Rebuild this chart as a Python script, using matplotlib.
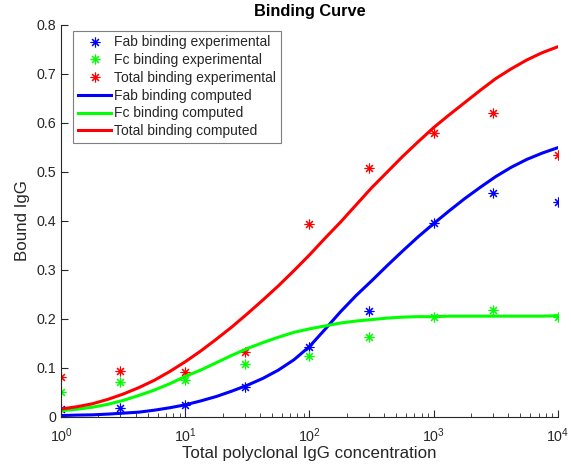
import numpy as np
import matplotlib
matplotlib.use('Agg')
import matplotlib.pyplot as plt

plt.rcParams['font.family'] = ['Liberation Sans', 'DejaVu Sans']
plt.rcParams['mathtext.default'] = 'regular'

# experimental points
conc = [1, 3, 10, 30, 100, 300, 1000, 3000, 10000]
fab_exp = [0.015, 0.017, 0.023, 0.061, 0.143, 0.215, 0.396, 0.457, 0.439]
fc_exp = [0.051, 0.071, 0.075, 0.107, 0.124, 0.162, 0.204, 0.217, 0.203]
tot_exp = [0.081, 0.093, 0.092, 0.131, 0.394, 0.508, 0.578, 0.619, 0.535]

log_conc = [0, 0.125, 0.25, 0.375, 0.5, 0.625, 0.75, 0.875, 1, 1.125, 1.25, 1.375,
            1.5, 1.625, 1.75, 1.875, 2, 2.125, 2.25, 2.375, 2.5, 2.625, 2.75, 2.875,
            3, 3.125, 3.25, 3.375, 3.5, 3.625, 3.75, 3.875, 4]
fab_fit = [0.002, 0.003, 0.0035, 0.005, 0.007, 0.009, 0.013, 0.018, 0.024, 0.032, 0.041,
           0.052, 0.064, 0.078, 0.095, 0.116, 0.143, 0.178, 0.214, 0.247, 0.277, 0.308,
           0.338, 0.367, 0.394, 0.420, 0.445, 0.468, 0.490, 0.509, 0.525, 0.538, 0.549]
fc_fit = [0.012, 0.015, 0.019, 0.025, 0.033, 0.043, 0.054, 0.067, 0.082, 0.095, 0.110,
          0.125, 0.139, 0.151, 0.162, 0.172, 0.179, 0.185, 0.191, 0.195, 0.198, 0.201,
          0.203, 0.204, 0.204, 0.205, 0.205, 0.205, 0.205, 0.205, 0.205, 0.205, 0.206]
tot_fit = [0.0155, 0.020, 0.026, 0.035, 0.046, 0.059, 0.074, 0.092, 0.112, 0.134, 0.158,
           0.183, 0.210, 0.238, 0.267, 0.298, 0.330, 0.364, 0.397, 0.432, 0.467, 0.499,
           0.531, 0.561, 0.590, 0.616, 0.641, 0.666, 0.690, 0.710, 0.728, 0.743, 0.755]

x_fit = 10 ** np.array(log_conc)
ast = (8, 2, 0)  # asterisk marker like matlab '*'
txt = '#262626'

fig = plt.figure(figsize=(5.71, 4.75), dpi=100)
ax = fig.add_axes([0.107, 0.123, 0.870, 0.825])

ax.plot(conc, fab_exp, ls='none', marker=ast, ms=7, mew=0.8, color='blue', label='Fab binding experimental')
ax.plot(conc, fc_exp, ls='none', marker=ast, ms=7, mew=0.8, color=(0, 1, 0), label='Fc binding experimental')
ax.plot(conc, tot_exp, ls='none', marker=ast, ms=7, mew=0.8, color='red', label='Total binding experimental')
ax.plot(x_fit, fab_fit, color='blue', lw=2.2, label='Fab binding computed')
ax.plot(x_fit, fc_fit, color=(0, 1, 0), lw=2.2, label='Fc binding computed')
ax.plot(x_fit, tot_fit, color='red', lw=2.2, label='Total binding computed')

ax.set_xscale('log')
ax.set_xlim(1, 1e4)
ax.set_ylim(0, 0.8)
ax.set_yticks(np.arange(0, 0.81, 0.1))
ax.set_yticklabels(['0', '0.1', '0.2', '0.3', '0.4', '0.5', '0.6', '0.7', '0.8'])

for s in ['top', 'right']:
    ax.spines[s].set_visible(False)
for s in ['left', 'bottom']:
    ax.spines[s].set_color(txt)
    ax.spines[s].set_linewidth(0.8)
ax.tick_params(which='both', direction='in', colors=txt, labelsize=10.3)
ax.tick_params(which='major', length=5)
ax.tick_params(which='minor', length=3)
ax.tick_params(axis='x', which='major', pad=7)

ax.set_title('Binding Curve', fontsize=11.8, fontweight='bold', color='black', pad=6)
ax.set_xlabel('Total polyclonal IgG concentration', fontsize=12.2, color=txt, labelpad=1)
ax.set_ylabel('Bound IgG', fontsize=12.2, color=txt, labelpad=5)

leg = ax.legend(loc='upper left', bbox_to_anchor=(0.024, 0.985), borderaxespad=0,
                fontsize=10, fancybox=False, framealpha=1, edgecolor='#7f7f7f',
                numpoints=1, handlelength=2.4, handletextpad=0.2, labelspacing=0.27,
                borderpad=0.35)
leg.get_frame().set_linewidth(0.8)
for t in leg.get_texts():
    t.set_color(txt)

fig.savefig('out.png', dpi=100)
